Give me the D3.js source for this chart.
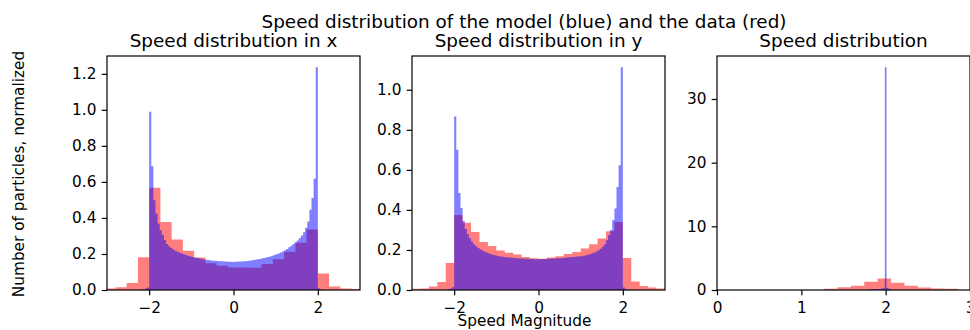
<!DOCTYPE html>
<html>
<head>
<meta charset="utf-8">
<style>
  body { margin: 0; background: #fff; }
  svg text { font-family: "DejaVu Sans", sans-serif; fill: #000; }
</style>
<script src="https://d3js.org/d3.v7.min.js"></script>
</head>
<body>
<svg width="970" height="330"></svg>
<script>
// histogram heights: bin start, bin width, heights
const redStartX = -2 - 4 * (4 / 15), redWidthX = 4 / 15;
const redX = [0.009, 0.015, 0.039, 0.182, 0.567, 0.378, 0.28, 0.218, 0.18, 0.148, 0.135, 0.125,
  0.125, 0.124, 0.144, 0.17, 0.212, 0.262, 0.336, 0.092, 0.02, 0.008, 0.006];

const blueStartX = -2.2, blueWidthX = 0.05;
const blueX = [0.003, 0.004, 0.008, 0.014,
  0.99, 0.687, 0.498, 0.424, 0.369, 0.332, 0.305, 0.278, 0.255, 0.243, 0.233, 0.225, 0.218, 0.212, 0.207, 0.202, 0.198, 0.194, 0.19, 0.187,
  0.183, 0.18, 0.178, 0.176, 0.174, 0.171, 0.169, 0.167, 0.166, 0.164, 0.163, 0.162, 0.161, 0.16, 0.159, 0.158, 0.158, 0.157, 0.157, 0.156,
  0.157, 0.157, 0.158, 0.158, 0.159, 0.16, 0.161, 0.162, 0.164, 0.166, 0.168, 0.17, 0.172, 0.175, 0.177, 0.18, 0.183, 0.186, 0.19, 0.194,
  0.198, 0.203, 0.208, 0.214, 0.22, 0.228, 0.237, 0.246, 0.255, 0.265, 0.275, 0.288, 0.303, 0.32, 0.345, 0.38, 0.445, 0.51, 0.618, 1.237,
  0.01, 0.004];

const redStartY = -3, redWidthY = 0.2;
const redY = [0.006, 0.007, 0.018, 0.04, 0.135, 0.374, 0.336, 0.29, 0.24, 0.22, 0.197, 0.186, 0.177, 0.165, 0.158,
  0.156, 0.162, 0.168, 0.18, 0.19, 0.207, 0.229, 0.257, 0.293, 0.34, 0.16, 0.042, 0.02, 0.012, 0.007];

const blueStartY = -2.15, blueWidthY = 0.05;
const blueY = [0.004, 0.008, 0.014,
  0.866, 0.70, 0.485, 0.41, 0.345, 0.305, 0.278, 0.258, 0.242, 0.229, 0.219, 0.21, 0.203, 0.197, 0.192, 0.187, 0.183, 0.179, 0.176, 0.173,
  0.171, 0.169, 0.167, 0.165, 0.164, 0.163, 0.162, 0.161, 0.16, 0.159, 0.158, 0.157, 0.157, 0.156, 0.156, 0.155, 0.155, 0.155, 0.154, 0.154,
  0.154, 0.155, 0.155, 0.155, 0.156, 0.156, 0.157, 0.157, 0.158, 0.158, 0.159, 0.16, 0.161, 0.162, 0.163, 0.164, 0.165, 0.166, 0.167, 0.168,
  0.169, 0.171, 0.173, 0.176, 0.179, 0.183, 0.187, 0.192, 0.198, 0.206, 0.216, 0.229, 0.249, 0.274, 0.30, 0.349, 0.407, 0.515, 0.623, 1.113,
  0.012, 0.005, 0.003];

const redStartM = 1.27, redWidthM = 0.1587;
const redM = [0.18, 0.42, 0.65, 1.28, 1.8, 1.15, 0.65, 0.4, 0.23, 0.2];

const blueStartM = 1.81, blueWidthM = 0.02;
const blueM = [0.12, 0.12, 0.13, 0.14, 0.15, 0.17, 0.2, 0.25, 0.35, 35.0, 0.3, 0.2, 0.1];

const panelTitles = ["Speed distribution in x", "Speed distribution in y", "Speed distribution"];
const xDomains = [[-3, 3], [-3, 3], [0, 3]];
const xTicks = [[-2, 0, 2], [-2, 0, 2], [0, 1, 2, 3]];
const yTicks = [[0, 0.2, 0.4, 0.6, 0.8, 1.0, 1.2], [0, 0.2, 0.4, 0.6, 0.8, 1.0], [0, 10, 20, 30]];
const yFormats = [".1f", ".1f", "d"];

let svg = d3.select("svg");
let plotTop = 56, plotBottom = 290, panelW = 253;
let plotH = plotBottom - plotTop;
let lefts = [107, 412, 717];
let tick = 5.3;
let titleSize = 18.4, labelSize = 15.3;

let hists = [
  { red: [redStartX, redWidthX, redX], blue: [blueStartX, blueWidthX, blueX] },
  { red: [redStartY, redWidthY, redY], blue: [blueStartY, blueWidthY, blueY] },
  { red: [redStartM, redWidthM, redM], blue: [blueStartM, blueWidthM, blueM] }
];

function histPath(h, x, y) {
  let [start, w, vals] = h;
  let pts = vals.map((v, i) => [start + i * w, v]);
  pts.push([start + vals.length * w, vals[vals.length - 1]]);
  return d3.area()
    .x(d => x(d[0]))
    .y0(y(0))
    .y1(d => y(d[1]))
    .curve(d3.curveStepAfter)(pts);
}

hists.forEach((h, i) => {
  let g = svg.append("g").attr("transform", `translate(${lefts[i]},${plotTop})`);
  let x = d3.scaleLinear().domain(xDomains[i]).range([0, panelW]);
  let ymax = d3.max(h.red[2].concat(h.blue[2])) * 1.05;
  let y = d3.scaleLinear().domain([0, ymax]).range([plotH, 0]);

  g.append("clipPath").attr("id", "clip" + i)
    .append("rect").attr("width", panelW).attr("height", plotH);

  let plot = g.append("g").attr("clip-path", `url(#clip${i})`);
  plot.append("path").attr("d", histPath(h.red, x, y))
    .attr("fill", "red").attr("fill-opacity", 0.5);
  plot.append("path").attr("d", histPath(h.blue, x, y))
    .attr("fill", "blue").attr("fill-opacity", 0.5);

  let gx = g.append("g").attr("transform", `translate(0,${plotH})`)
    .call(d3.axisBottom(x).tickValues(xTicks[i]).tickSize(tick).tickPadding(tick).tickFormat(d3.format("d")));
  let gy = g.append("g")
    .call(d3.axisLeft(y).tickValues(yTicks[i]).tickSize(tick).tickPadding(tick).tickFormat(d3.format(yFormats[i])));
  [gx, gy].forEach(a => {
    a.attr("font-family", null).attr("font-size", labelSize);
    a.select(".domain").remove();
    a.selectAll("line").attr("stroke", "#000").attr("stroke-width", 1.2);
  });
  gx.selectAll("text").attr("dy", "0.8em");

  g.append("rect").attr("x", 0).attr("y", 0).attr("width", panelW).attr("height", plotH)
    .attr("fill", "none").attr("stroke", "#000").attr("stroke-width", 1.2);

  g.append("text").attr("x", panelW / 2).attr("y", -9.5)
    .attr("text-anchor", "middle").attr("font-size", titleSize)
    .text(panelTitles[i]);
});

svg.append("text").attr("x", 524).attr("y", 27.5)
  .attr("text-anchor", "middle").attr("font-size", titleSize)
  .text("Speed distribution of the model (blue) and the data (red)");

svg.append("text").attr("x", 524.5).attr("y", 325.5)
  .attr("text-anchor", "middle").attr("font-size", labelSize)
  .text("Speed Magnitude");

svg.append("text").attr("transform", "translate(23.5,174) rotate(-90)")
  .attr("text-anchor", "middle").attr("font-size", labelSize)
  .text("Number of particles, normalized");
</script>
</body>
</html>
